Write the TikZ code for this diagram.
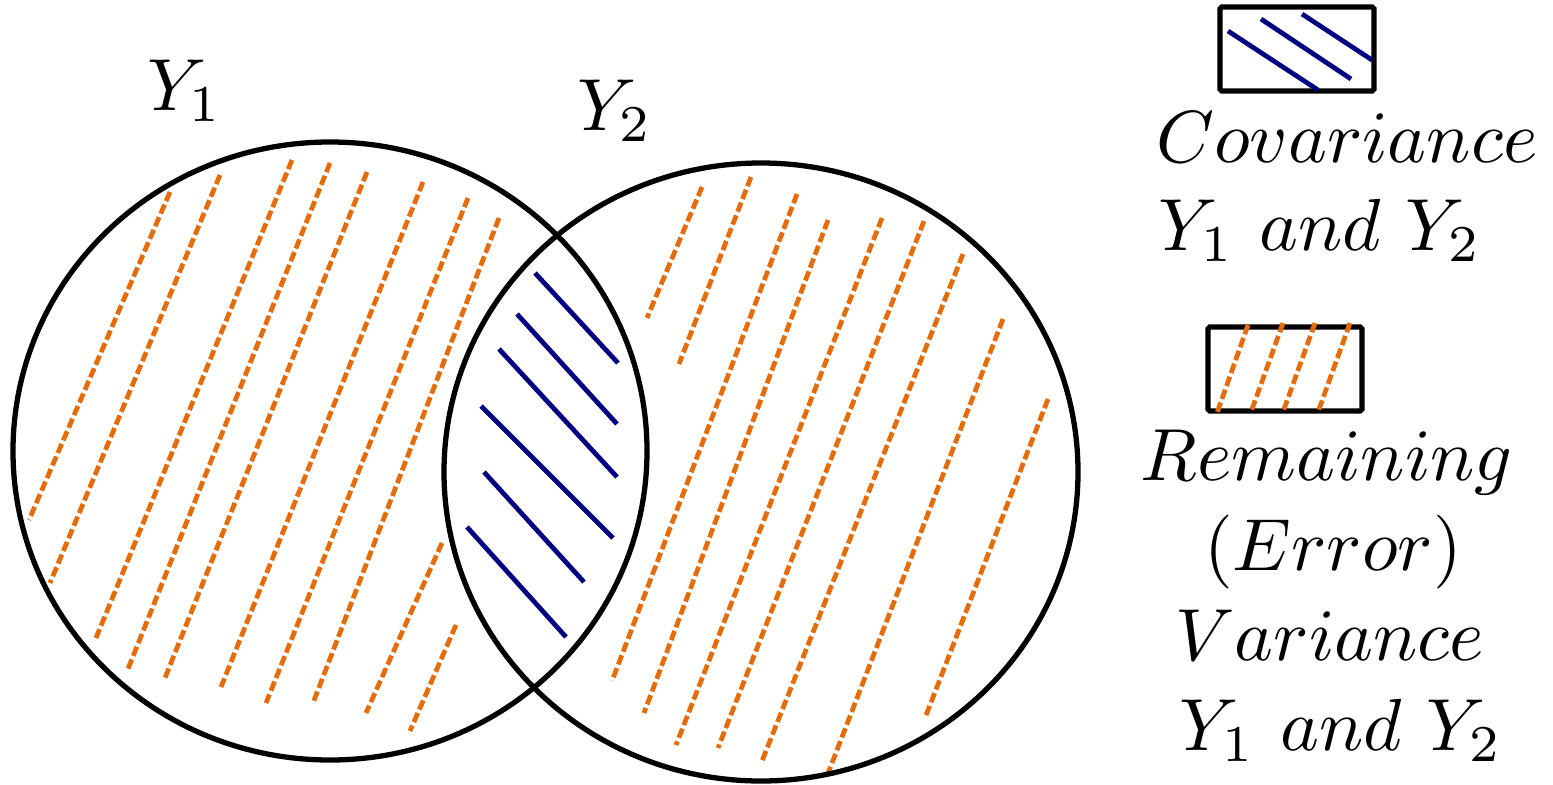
\documentclass[tikz,border=0pt]{standalone}
\usepackage{amsmath}
\definecolor{hatchorange}{RGB}{228,108,10}
\definecolor{hatchblue}{RGB}{0,0,128}
\tikzset{
  venn/.style={black, line width=1.5pt},
  errline/.style={hatchorange, line width=1.35pt, dash pattern=on 2.8pt off 1.1pt},
  covline/.style={hatchblue, line width=1.35pt},
  legbox/.style={black, line width=1.5pt, rounded corners=0.5pt},
  lab/.style={anchor=base, inner sep=0pt, scale=2.1}
}

\begin{document}
\begin{tikzpicture}
    \useasboundingbox (0,0) rectangle (15.53,7.84);
    % remaining (error) variance, Y1 side
    \foreach \a/\b in {{(1.70,5.92)}/{(0.29,2.64)}, {(2.20,6.09)}/{(0.50,2.01)},
        {(2.92,6.24)}/{(0.96,1.46)}, {(3.30,6.21)}/{(1.28,1.15)},
        {(3.67,6.12)}/{(1.65,1.06)}, {(4.23,6.02)}/{(2.21,0.97)},
        {(4.68,5.86)}/{(2.66,0.81)}, {(4.99,5.66)}/{(3.13,0.81)},
        {(4.42,2.41)}/{(3.66,0.71)}, {(4.56,1.59)}/{(4.10,0.53)}}
        \draw[errline] \a -- \b;
    % remaining (error) variance, Y2 side
    \foreach \a/\b in {{(7.02,5.97)}/{(6.47,4.66)}, {(7.51,6.07)}/{(6.79,4.20)},
        {(7.97,5.90)}/{(6.12,1.03)}, {(8.28,5.64)}/{(6.44,0.71)},
        {(8.82,5.66)}/{(6.76,0.39)}, {(9.24,5.63)}/{(7.18,0.36)},
        {(9.63,5.30)}/{(7.62,0.23)}, {(10.03,4.65)}/{(8.27,0.08)},
        {(10.48,3.85)}/{(9.25,0.66)}}
        \draw[errline] \a -- \b;
    % covariance (overlap)
    \foreach \a/\b in {{(5.35,5.11)}/{(6.18,4.21)}, {(5.17,4.70)}/{(6.17,3.60)},
        {(4.99,4.35)}/{(6.17,3.07)}, {(4.81,3.78)}/{(6.13,2.46)},
        {(4.84,3.12)}/{(5.84,2.02)}, {(4.67,2.57)}/{(5.66,1.47)}}
        \draw[covline] \a -- \b;
    % the two sets
    \draw[venn] (3.30,3.33) ellipse (3.17 and 3.09);
    \draw[venn] (7.61,3.12) ellipse (3.17 and 3.09);
    \node[lab] (y1) at (1.85,6.74) {$Y_1$};
    \node[lab] (y2) at (6.15,6.54) {$Y_2$};
    %\\ legend
    \draw[legbox] (12.20,7.77) rectangle (13.74,6.93);
    \draw[covline] (12.28,7.53) -- (13.18,6.94);
    \draw[covline] (12.61,7.65) -- (13.51,7.05);
    \draw[covline] (13.02,7.70) -- (13.72,7.24);
    \node[lab] (cov) at (13.47,6.22) {$Covariance$};
    \node[lab] (cov2) at (13.20,5.34) {$Y_1\ and\ Y_2$};
    \draw[legbox] (12.08,4.57) rectangle (13.62,3.73);
    \draw[errline] (12.48,4.59) -- (12.17,3.71);
    \draw[errline] (12.83,4.61) -- (12.51,3.72);
    \draw[errline] (13.15,4.61) -- (12.83,3.72);
    \draw[errline] (13.50,4.61) -- (13.18,3.72);
    \node[lab] (rem) at (13.27,3.04) {$Remaining$};
    \node[lab] (rem2) at (13.33,2.14) {$(Error)$};
    \node[lab] (rem3) at (13.30,1.24) {$Variance$};
    \node[lab] (rem4) at (13.41,0.34) {$Y_1\ and\ Y_2$};
\end{tikzpicture}
\end{document}
